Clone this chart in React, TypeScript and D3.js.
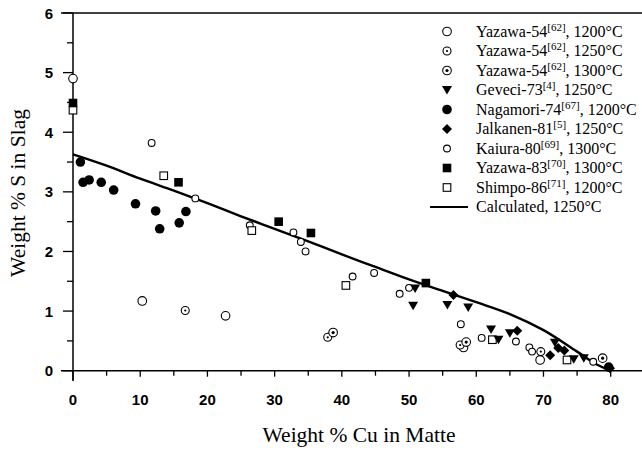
import React from "react";
import * as d3 from "d3";

const W = 642;
const H = 452;

// Series values: [Cu wt%, S wt%]
const yazawa54_1200: [number, number][] = [
  [0, 4.9], [10.3, 1.17], [22.7, 0.92], [58.1, 0.39], [69.5, 0.18],
];
const yazawa54_1250: [number, number][] = [
  [16.7, 1.01], [37.9, 0.56], [57.6, 0.43], [69.6, 0.32],
];
const yazawa54_1300: [number, number][] = [
  [38.7, 0.64], [58.5, 0.48], [78.8, 0.21],
];
const geveci73: [number, number][] = [
  [50.9, 1.38], [50.6, 1.09], [55.7, 1.1], [58.8, 1.06], [62.2, 0.69],
  [63.3, 0.52], [65.0, 0.63], [71.7, 0.47], [74.5, 0.19], [76.0, 0.21],
];
const nagamori74: [number, number][] = [
  [1.1, 3.5], [1.5, 3.16], [2.4, 3.2], [4.2, 3.16], [6.05, 3.03],
  [9.3, 2.8], [12.3, 2.68], [12.9, 2.38], [15.8, 2.48], [16.8, 2.67],
  [79.7, 0.06],
];
const jalkanen81: [number, number][] = [
  [56.6, 1.27], [66.1, 0.67], [71.0, 0.26], [72.2, 0.38], [73.1, 0.34],
  [79.9, 0.04],
];
const kaiura80: [number, number][] = [
  [11.7, 3.82], [18.2, 2.89], [26.3, 2.44], [32.8, 2.32], [33.9, 2.16],
  [34.6, 2.0], [41.6, 1.58], [44.8, 1.64], [48.6, 1.29], [50.0, 1.39],
  [57.7, 0.78], [60.8, 0.55], [65.9, 0.49], [67.9, 0.39], [68.3, 0.32],
  [77.4, 0.15],
];
const yazawa83: [number, number][] = [
  [0, 4.49], [15.7, 3.16], [30.6, 2.5], [35.4, 2.31], [52.5, 1.47],
];
const shimpo86: [number, number][] = [
  [0, 4.37], [13.5, 3.27], [26.6, 2.35], [40.6, 1.43], [62.4, 0.52],
  [73.5, 0.18],
];
const calculated: [number, number][] = [
  [0, 3.63], [5, 3.44], [10, 3.22], [15, 3.02], [20, 2.81], [25, 2.59],
  [30, 2.38], [35, 2.17], [40, 1.95], [45, 1.74], [50, 1.53], [55, 1.34],
  [60, 1.15], [65, 0.95], [70, 0.68], [75, 0.32], [78, 0.1], [80, 0],
];

const xTicks = [0, 10, 20, 30, 40, 50, 60, 70, 80];
const xMinor = [5, 15, 25, 35, 45, 55, 65, 75];
const yTicks = [0, 1, 2, 3, 4, 5, 6];
const yMinor = [0.5, 1.5, 2.5, 3.5, 4.5, 5.5];

const legendItems = [
  { key: "y1200", name: "Yazawa-54", ref: "[62]", temp: ", 1200°C" },
  { key: "y1250", name: "Yazawa-54", ref: "[62]", temp: ", 1250°C" },
  { key: "y1300", name: "Yazawa-54", ref: "[62]", temp: ", 1300°C" },
  { key: "gev", name: "Geveci-73", ref: "[4]", temp: ", 1250°C" },
  { key: "nag", name: "Nagamori-74", ref: "[67]", temp: ", 1200°C" },
  { key: "jal", name: "Jalkanen-81", ref: "[5]", temp: ", 1250°C" },
  { key: "kai", name: "Kaiura-80", ref: "[69]", temp: ", 1300°C" },
  { key: "y83", name: "Yazawa-83", ref: "[70]", temp: ", 1300°C" },
  { key: "shi", name: "Shimpo-86", ref: "[71]", temp: ", 1200°C" },
  { key: "calc", name: "Calculated, 1250°C", ref: "", temp: "" },
];

const x = d3.scaleLinear().domain([0, 80]).range([73, 610.7]);
const y = d3.scaleLinear().domain([0, 6]).range([370.7, 13]);

function Marker({ kind, cx, cy }: { kind: string; cx: number; cy: number }) {
  const sw = 1.1;
  switch (kind) {
    case "y1200":
      return <circle cx={cx} cy={cy} r={4.3} fill="white" stroke="black" strokeWidth={sw} />;
    case "y1250":
      return (
        <g>
          <circle cx={cx} cy={cy} r={4.0} fill="white" stroke="black" strokeWidth={sw} />
          <circle cx={cx} cy={cy} r={1.1} fill="black" />
        </g>
      );
    case "y1300":
      return (
        <g>
          <circle cx={cx} cy={cy} r={4.3} fill="white" stroke="black" strokeWidth={sw} />
          <circle cx={cx} cy={cy} r={1.6} fill="black" />
        </g>
      );
    case "gev": {
      const s = 5;
      const p = `M${cx - s},${cy - s * 0.8}L${cx + s},${cy - s * 0.8}L${cx},${cy + s * 0.9}Z`;
      return <path d={p} fill="black" />;
    }
    case "nag":
      return <circle cx={cx} cy={cy} r={4.8} fill="black" />;
    case "jal": {
      const s = 5;
      const p = `M${cx},${cy - s}L${cx + s},${cy}L${cx},${cy + s}L${cx - s},${cy}Z`;
      return <path d={p} fill="black" />;
    }
    case "kai":
      return <circle cx={cx} cy={cy} r={3.4} fill="white" stroke="black" strokeWidth={sw} />;
    case "y83":
      return <rect x={cx - 4.3} y={cy - 4.3} width={8.6} height={8.6} fill="black" />;
    case "shi":
      return <rect x={cx - 3.8} y={cy - 3.8} width={7.6} height={7.6} fill="white" stroke="black" strokeWidth={sw} />;
    default:
      return null;
  }
}

const seriesMap: { kind: string; data: [number, number][] }[] = [
  { kind: "y1200", data: yazawa54_1200 },
  { kind: "kai", data: kaiura80 },
  { kind: "y1250", data: yazawa54_1250 },
  { kind: "y1300", data: yazawa54_1300 },
  { kind: "shi", data: shimpo86 },
  { kind: "gev", data: geveci73 },
  { kind: "nag", data: nagamori74 },
  { kind: "jal", data: jalkanen81 },
  { kind: "y83", data: yazawa83 },
];

export default function App() {
  const line = d3
    .line<[number, number]>()
    .x((d) => x(d[0]))
    .y((d) => y(d[1]))
    .curve(d3.curveCatmullRom.alpha(0.5));

  const tickFont = { fontFamily: "'Liberation Sans', Arial, sans-serif", fontWeight: 700, fontSize: 15 };
  const serif = "'Liberation Serif', 'Times New Roman', serif";
  const legX = 447;
  const legY0 = 31.5;
  const legDy = 19.5;

  return (
    <svg width={W} height={H} style={{ position: "absolute", left: 0, top: 0, background: "white" }}>
      <rect x={0} y={0} width={W} height={H} fill="white" />
      {/* axes */}
      <line x1={61} x2={W} y1={y(6)} y2={y(6)} stroke="black" strokeWidth={1.5} />
      <line x1={61} x2={W} y1={y(0)} y2={y(0)} stroke="black" strokeWidth={1.5} />
      <line x1={x(0)} x2={x(0)} y1={y(6)} y2={y(0) + 10} stroke="black" strokeWidth={1.5} />
      {yTicks.map((t) => (
        <g key={"yt" + t}>
          <line x1={x(0) - 10} x2={x(0)} y1={y(t)} y2={y(t)} stroke="black" strokeWidth={1.3} />
          <text x={53} y={y(t) + 5.5} textAnchor="end" {...tickFont}>{t}</text>
        </g>
      ))}
      {yMinor.map((t) => (
        <line key={"ym" + t} x1={x(0) - 6} x2={x(0)} y1={y(t)} y2={y(t)} stroke="black" strokeWidth={1.3} />
      ))}
      {xTicks.map((t) => (
        <g key={"xt" + t}>
          <line x1={x(t)} x2={x(t)} y1={y(0)} y2={y(0) + (t === 0 ? 10 : 6)} stroke="black" strokeWidth={1.3} />
          <text x={x(t)} y={404.5} textAnchor="middle" {...tickFont}>{t}</text>
        </g>
      ))}
      {xMinor.map((t) => (
        <line key={"xm" + t} x1={x(t)} x2={x(t)} y1={y(0)} y2={y(0) + 5} stroke="black" strokeWidth={1.3} />
      ))}
      {/* titles */}
      <text x={359} y={441.5} textAnchor="middle" fontFamily={serif} fontSize={21.5}>
        Weight % Cu in Matte
      </text>
      <text
        transform={`translate(25,193) rotate(-90)`}
        textAnchor="middle"
        fontFamily={serif}
        fontSize={21.5}
      >
        Weight % S in Slag
      </text>
      {/* calculated curve */}
      <path d={line(calculated) || ""} fill="none" stroke="black" strokeWidth={2.4} />
      {/* data points */}
      {seriesMap.map((s) =>
        s.data.map((d, i) => <Marker key={s.kind + i} kind={s.kind} cx={x(d[0])} cy={y(d[1])} />)
      )}
      {/* legend */}
      {legendItems.map((it, i) => {
        const cy = legY0 + i * legDy;
        return (
          <g key={"leg" + it.key}>
            {it.key === "calc" ? (
              <line x1={430} x2={468} y1={cy} y2={cy} stroke="black" strokeWidth={2} />
            ) : (
              <Marker kind={it.key} cx={legX} cy={cy} />
            )}
            <text x={476} y={cy + 5} fontFamily={serif} fontSize={16}>
              {it.name}
              {it.ref ? (
                <>
                  <tspan fontSize={11} dy={-6}>{it.ref}</tspan>
                  <tspan dy={6}>{it.temp}</tspan>
                </>
              ) : null}
            </text>
          </g>
        );
      })}
    </svg>
  );
}
